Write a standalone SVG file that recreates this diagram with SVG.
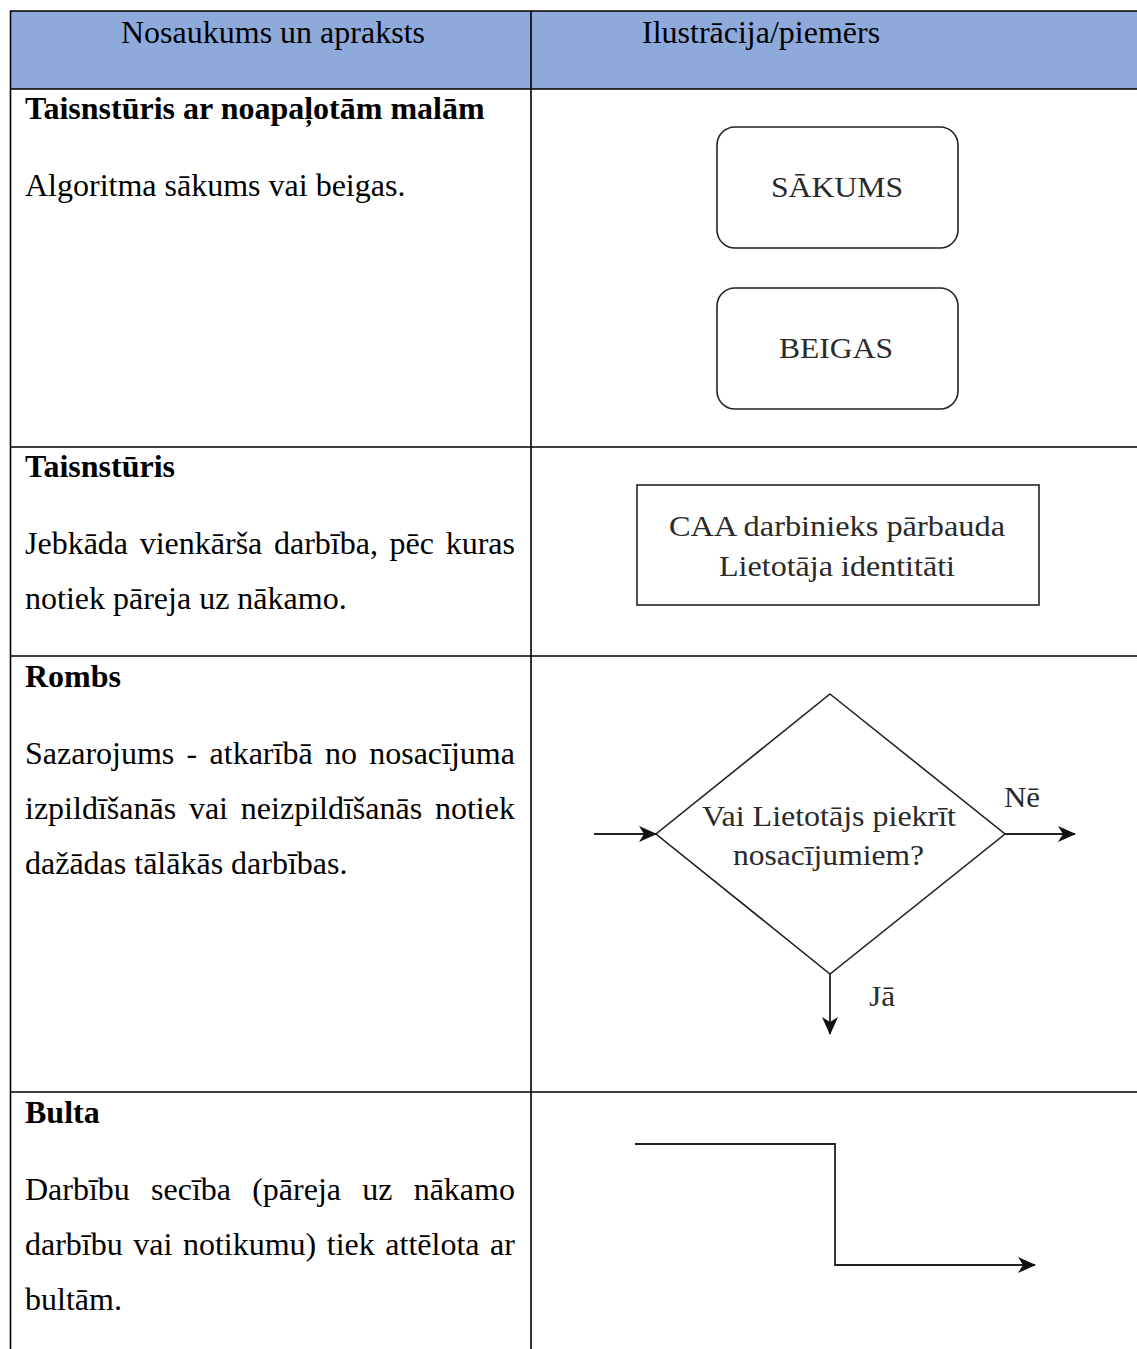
<svg xmlns="http://www.w3.org/2000/svg" width="1137" height="1349" viewBox="0 0 1137 1349">
<style>
.body{font-family:"Liberation Serif","Times New Roman",serif;font-size:32px;fill:#000}
.bold{font-weight:bold}
.dg{font-family:"Liberation Serif","Times New Roman",serif;font-size:30px;fill:#2a2a2a}
.grid{stroke:#000;stroke-width:1.6;fill:none}
.shape{fill:#fff;stroke:#222;stroke-width:1.6}
.conn{fill:none;stroke:#222;stroke-width:1.8}
</style>
<defs>
<marker id="arr" viewBox="0 0 18 16" refX="17" refY="8" markerWidth="18" markerHeight="16" markerUnits="userSpaceOnUse" orient="auto">
<path d="M0,0 L18,8 L0,16 L5,8 z" fill="#111"/>
</marker>
</defs>
<rect width="1137" height="1349" fill="#fff"/>
<g id="table">
<rect x="10" y="11" width="1127" height="78" fill="#8eaadb"/>
<path class="grid" d="M10,11 H1137 M10,89 H1137 M10,447 H1137 M10,656 H1137 M10,1092 H1137 M10.5,11 V1349 M531,11 V1349"/>
<text class="body" x="121" y="43">Nosaukums un apraksts</text>
<text class="body" x="642" y="43">Ilustrācija/piemērs</text>
</g>
<g id="row-terminator">
<text class="body bold" x="25" y="119">Taisnstūris ar noapaļotām malām</text>
<text class="body" x="25" y="196">Algoritma sākums vai beigas.</text>
</g>
<g id="row-rect">
<text class="body bold" x="25" y="477">Taisnstūris</text>
<text class="body" x="25" y="554" word-spacing="3.65">Jebkāda vienkārša darbība, pēc kuras</text>
<text class="body" x="25" y="609">notiek pāreja uz nākamo.</text>
</g>
<g id="row-diamond">
<text class="body bold" x="25" y="687">Rombs</text>
<text class="body" x="25" y="764" word-spacing="4.3">Sazarojums - atkarībā no nosacījuma</text>
<text class="body" x="25" y="819" word-spacing="4.83">izpildīšanās vai neizpildīšanās notiek</text>
<text class="body" x="25" y="874">dažādas tālākās darbības.</text>
</g>
<g id="row-arrow">
<text class="body bold" x="25" y="1123">Bulta</text>
<text class="body" x="25" y="1200" word-spacing="13.2">Darbību secība (pāreja uz nākamo</text>
<text class="body" x="25" y="1255" word-spacing="2.54">darbību vai notikumu) tiek attēlota ar</text>
<text class="body" x="25" y="1310">bultām.</text>
</g>
<g id="node-sakums">
<rect class="shape" x="717" y="127" width="241" height="121" rx="18"/>
<text class="dg" x="771" y="197" textLength="132" lengthAdjust="spacingAndGlyphs">SĀKUMS</text>
</g>
<g id="node-beigas">
<rect class="shape" x="717" y="288" width="241" height="121" rx="18"/>
<text class="dg" x="779" y="358" textLength="114" lengthAdjust="spacingAndGlyphs">BEIGAS</text>
</g>
<g id="node-caa">
<rect class="shape" x="637" y="485" width="402" height="120"/>
<text class="dg" x="669" y="536" textLength="336" lengthAdjust="spacingAndGlyphs">CAA darbinieks pārbauda</text>
<text class="dg" x="719" y="576" textLength="236" lengthAdjust="spacingAndGlyphs">Lietotāja identitāti</text>
</g>
<g id="node-decision">
<polygon class="shape" points="830,694 1005,834 830,974 656,834"/>
<text class="dg" x="702" y="826" textLength="254" lengthAdjust="spacingAndGlyphs">Vai Lietotājs piekrīt</text>
<text class="dg" x="733" y="865" textLength="191" lengthAdjust="spacingAndGlyphs">nosacījumiem?</text>
</g>
<g id="connectors">
<line class="conn" x1="594" y1="834" x2="656" y2="834" marker-end="url(#arr)"/>
<line class="conn" x1="1005" y1="834" x2="1075" y2="834" marker-end="url(#arr)"/>
<line class="conn" x1="830" y1="974" x2="830" y2="1034" marker-end="url(#arr)"/>
<polyline class="conn" points="635,1144 835,1144 835,1265 1035,1265" marker-end="url(#arr)"/>
<text class="dg" x="1004" y="807" textLength="36" lengthAdjust="spacingAndGlyphs">Nē</text>
<text class="dg" x="869" y="1006" textLength="26" lengthAdjust="spacingAndGlyphs">Jā</text>
</g>
</svg>
